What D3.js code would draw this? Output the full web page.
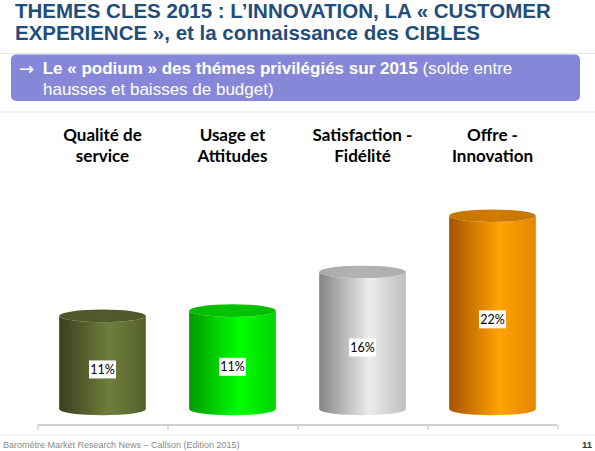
<!DOCTYPE html>
<html>
<head>
<meta charset="utf-8">
<script src="https://cdn.jsdelivr.net/npm/d3@7/dist/d3.min.js"></script>
<style>
  html, body { margin: 0; padding: 0; background: #ffffff; }
  svg { display: block; }
</style>
</head>
<body>
<svg id="chart" width="595" height="451"></svg>
<script>
// ---- data ----
const categories = [["Qualité de", "service"], ["Usage et", "Attitudes"], ["Satisfaction -", "Fidélité"], ["Offre -", "Innovation"]];
const values = [10.6, 11.2, 15.6, 22.0];
const titleLines = ["THEMES CLES 2015 : L\u2019INNOVATION, LA « CUSTOMER", "EXPERIENCE », et la connaissance des CIBLES"];
const subtitleArrow = "\u2192";
const subtitleBold = "Le « podium » des thémes privilégiés sur 2015";
const subtitleRest1 = " (solde entre";
const subtitleRest2 = "hausses et baisses de budget)";
const footerText = "Barométre Market Research News \u2013 Callson (Edition 2015)";
const pageNumber = "11";
const barColors = [
  { left: "#3a401e", mid: "#6f7e3d", right: "#55612b", top: "#525a2c" },
  { left: "#009a00", mid: "#00ff00", right: "#00d400", top: "#00c400" },
  { left: "#858585", mid: "#ededed", right: "#bdbdbd", top: "#b3b3b3" },
  { left: "#a65200", mid: "#ffa300", right: "#e68600", top: "#cf7a00" }
];

const svg = d3.select("#chart");
const W = 595, H = 451;

// ---- header ----
const title = svg.append("text")
  .attr("font-family", "Liberation Sans, Arial, sans-serif")
  .attr("font-weight", "bold")
  .attr("font-size", 20.5)
  .attr("fill", "#1f4e7d");
titleLines.forEach((t, i) => {
  title.append("tspan").attr("x", 15).attr("y", 17.5 + i * 22.7).text(t);
});
svg.append("line").attr("x1", 0).attr("x2", W).attr("y1", 53.5).attr("y2", 53.5)
  .attr("stroke", "#e6e6e6").attr("stroke-width", 1);

// subtitle box
svg.append("rect").attr("x", 11).attr("y", 54.5).attr("width", 569).attr("height", 46.5)
  .attr("rx", 5).attr("ry", 5).attr("fill", "#8787d9");
svg.append("text").attr("x", 19).attr("y", 74.5)
  .attr("font-family", "DejaVu Sans, sans-serif").attr("font-size", 18)
  .attr("fill", "#ffffff").text(subtitleArrow);
const sub = svg.append("text")
  .attr("font-family", "Liberation Sans, Arial, sans-serif")
  .attr("font-size", 17)
  .attr("fill", "#ffffff");
sub.append("tspan").attr("x", 42.7).attr("y", 74).attr("font-weight", "bold").text(subtitleBold);
sub.append("tspan").text(subtitleRest1);
sub.append("tspan").attr("x", 43).attr("y", 95).text(subtitleRest2);

svg.append("line").attr("x1", 0).attr("x2", W).attr("y1", 112).attr("y2", 112)
  .attr("stroke", "#e6e6e6").attr("stroke-width", 1);

// ---- chart ----
const x = d3.scaleBand().domain(d3.range(categories.length))
  .range([37.5, 557.5]).paddingInner(1 / 3).paddingOuter(1 / 6);
const y = d3.scaleLinear().domain([0, 22]).range([409, 215.7]);
const ry = 6.3;

const defs = svg.append("defs");
barColors.forEach((c, i) => {
  const g = defs.append("linearGradient").attr("id", "side" + i)
    .attr("x1", "0%").attr("x2", "100%").attr("y1", "0%").attr("y2", "0%");
  g.append("stop").attr("offset", "0%").attr("stop-color", c.left);
  g.append("stop").attr("offset", "58%").attr("stop-color", c.mid);
  g.append("stop").attr("offset", "100%").attr("stop-color", c.right);
  const t = defs.append("linearGradient").attr("id", "top" + i)
    .attr("x1", "0%").attr("x2", "100%").attr("y1", "0%").attr("y2", "0%");
  t.append("stop").attr("offset", "0%").attr("stop-color", d3.color(c.top).darker(0.15));
  t.append("stop").attr("offset", "50%").attr("stop-color", c.top);
  t.append("stop").attr("offset", "100%").attr("stop-color", d3.color(c.top).darker(0.1));
});

const bars = svg.append("g").selectAll("g").data(values).join("g");
bars.each(function (v, i) {
  const g = d3.select(this);
  const x0 = x(i), w = x.bandwidth(), cx = x0 + w / 2;
  const yTop = y(v), yBot = y(0);
  const dSide = `M${x0},${yTop} L${x0},${yBot} A${w / 2},${ry} 0 0 0 ${x0 + w},${yBot} L${x0 + w},${yTop} A${w / 2},${ry} 0 0 1 ${x0},${yTop} Z`;
  g.append("path").attr("d", dSide).attr("fill", `url(#side${i})`);
  g.append("ellipse").attr("cx", cx).attr("cy", yTop).attr("rx", w / 2).attr("ry", ry)
    .attr("fill", `url(#top${i})`);
  // value label
  const ly = (yTop + yBot) / 2 + 7;
  const label = d3.format(".0f")(v) + "%";
  g.append("rect").attr("x", cx - 13.5).attr("y", ly - 9).attr("width", 27).attr("height", 18)
    .attr("fill", "#ffffff");
  g.append("text").attr("x", cx).attr("y", ly + 4.5).attr("text-anchor", "middle")
    .attr("font-family", "Lato, Open Sans, sans-serif").attr("font-size", 12.5)
    .attr("fill", "#000000").text(label);
});

// category labels
const catG = svg.append("g");
categories.forEach((lines, i) => {
  const t = catG.append("text").attr("text-anchor", "middle")
    .attr("font-family", "Lato, Open Sans, sans-serif").attr("font-weight", "bold")
    .attr("font-size", 17).attr("fill", "#000000");
  lines.forEach((l, j) => {
    t.append("tspan").attr("x", x(i) + x.bandwidth() / 2).attr("y", 140.7 + j * 21).text(l);
  });
});

// axis
const axisScale = d3.scaleLinear().domain([0, categories.length]).range([37.5, 557.5]);
const axis = d3.axisBottom(axisScale).ticks(categories.length).tickSize(5).tickFormat("");
const ag = svg.append("g").attr("transform", "translate(0,425)").call(axis);
ag.select(".domain").attr("stroke", "#c2c2c2").attr("stroke-width", 1.5).attr("d", "M37.5,0H557.5");
ag.selectAll(".tick line").attr("stroke", "#c2c2c2").attr("stroke-width", 1);

// footer
svg.append("line").attr("x1", 0).attr("x2", W).attr("y1", 435).attr("y2", 435)
  .attr("stroke", "#eaeaea").attr("stroke-width", 1);
svg.append("text").attr("x", 3).attr("y", 447.5)
  .attr("font-family", "Liberation Sans, Arial, sans-serif").attr("font-size", 9)
  .attr("fill", "#8a8a8a").text(footerText);
svg.append("text").attr("x", 592).attr("y", 447.5).attr("text-anchor", "end")
  .attr("font-family", "Liberation Sans, Arial, sans-serif").attr("font-size", 9.5)
  .attr("font-weight", "bold").attr("fill", "#333333").text(pageNumber);
</script>
</body>
</html>
